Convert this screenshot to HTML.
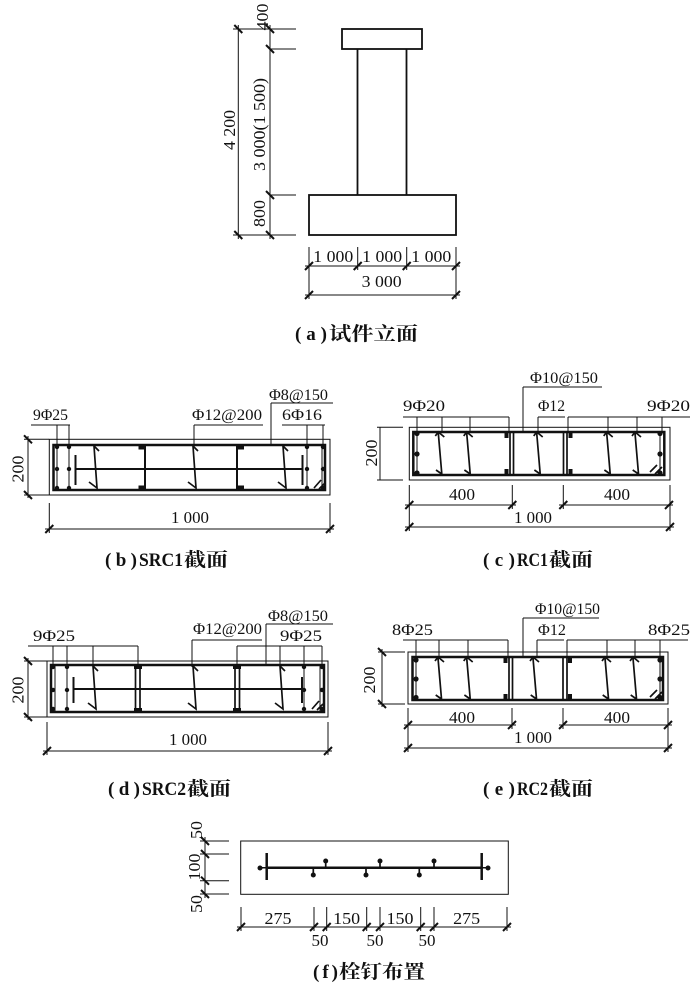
<!DOCTYPE html>
<html><head><meta charset="utf-8"><style>
html,body{margin:0;padding:0;background:#fff;}
svg{display:block;}
text{font-family:"Liberation Serif","Noto Serif CJK SC",serif;fill:#111;}
.d{font-size:17px;}
.l{font-size:16px;}
.c{font-size:19px;font-weight:bold;}
.t{stroke:#111;stroke-width:1;fill:none;}
.k{stroke:#111;stroke-width:2;fill:none;}
.s{stroke:#111;stroke-width:2.5;fill:none;}
.m{stroke:#111;stroke-width:1.7;fill:none;}
.f{fill:#111;}
</style></head><body>
<svg width="700" height="994" viewBox="0 0 700 994" xmlns="http://www.w3.org/2000/svg">
<rect width="700" height="994" fill="#fff"/>

<!-- ===== (a) Elevation ===== -->
<rect x="342" y="29" width="80" height="20" stroke="#111" stroke-width="1.8" fill="none"/>
<path d="M357.5 49V195M406.5 49V195" stroke="#111" stroke-width="1.8"/>
<rect x="309" y="195" width="147" height="40" stroke="#111" stroke-width="1.8" fill="none"/>
<path class="t" d="M238.3 25V239M270 25V239M233 29H296M270 49H296M270 195H296M233 235H296"/>
<path class="k" d="M234.3 25L242.3 33M234.3 231L242.3 239M266 25L274 33M266 45L274 53M266 191L274 199M266 231L274 239"/>
<path class="t" d="M309 247V299M456 247V299M357.7 247V270M406.7 247V270M305 266H460M305 295H460"/>
<path class="k" d="M305 270L313 262M353.7 270L361.7 262M402.7 270L410.7 262M452 270L460 262M305 299L313 291M452 299L460 291"/>
<text class="d" x="333.3" y="262" text-anchor="middle" textLength="40" lengthAdjust="spacingAndGlyphs">1 000</text>
<text class="d" x="382.2" y="262" text-anchor="middle" textLength="40" lengthAdjust="spacingAndGlyphs">1 000</text>
<text class="d" x="431.3" y="262" text-anchor="middle" textLength="40" lengthAdjust="spacingAndGlyphs">1 000</text>
<text class="d" x="381.7" y="287" text-anchor="middle" textLength="40" lengthAdjust="spacingAndGlyphs">3 000</text>
<text class="d" transform="translate(268,17) rotate(-90)" text-anchor="middle" textLength="27" lengthAdjust="spacingAndGlyphs">400</text>
<text class="d" transform="translate(265,124.5) rotate(-90)" text-anchor="middle" textLength="93" lengthAdjust="spacingAndGlyphs">3 000(1 500)</text>
<text class="d" transform="translate(265,213.5) rotate(-90)" text-anchor="middle" textLength="27" lengthAdjust="spacingAndGlyphs">800</text>
<text class="d" transform="translate(235,130) rotate(-90)" text-anchor="middle" textLength="40" lengthAdjust="spacingAndGlyphs">4 200</text>
<text class="c" x="295" y="340" textLength="32" lengthAdjust="spacing">(a)</text>
<text class="c" x="329" y="340" textLength="89" lengthAdjust="spacingAndGlyphs">试件立面</text>

<!-- ===== (b) SRC1 ===== -->
<rect x="49.3" y="439.3" width="280.7" height="55.7" class="t"/>
<rect x="53.5" y="445" width="271.5" height="45" class="s"/>
<path class="t" d="M57 445V490M69 445V490M307 445V490M322 445V490"/>
<g class="f">
<circle cx="57" cy="447" r="2.2"/><circle cx="57" cy="469" r="2.2"/><circle cx="57" cy="488" r="2.2"/>
<circle cx="69" cy="447" r="2.2"/><circle cx="69" cy="469" r="2.2"/><circle cx="69" cy="488" r="2.2"/>
<circle cx="307" cy="447" r="2.2"/><circle cx="307" cy="469" r="2.2"/><circle cx="307" cy="488" r="2.2"/>
<circle cx="323" cy="447" r="2.2"/><circle cx="323" cy="469" r="2.2"/><circle cx="323" cy="488" r="2.2"/>
<rect x="138.5" y="444.5" width="7" height="5"/><rect x="138.5" y="485.5" width="7" height="5"/>
<rect x="237" y="444.5" width="7" height="5"/><rect x="237" y="485.5" width="7" height="5"/>
</g>
<path class="k" d="M75 469H303M75.5 455V485M302.5 455V485M145 446V489M237 446V489"/>
<path class="m" d="M94 446L99 451M94 446L97 488L89 482M193 446L198 451M193 446L196 488L188 482M283 446L288 451M283 446L286 488L278 482"/>
<path class="m" d="M314 488L321 480M319 489L325 483"/>
<path class="t" d="M31 425H70M57 425V447M69 425V447M194 425H263M194 425V446M271 403H333M271 403V445M282 425H325M307 425V447M323 425V447"/>
<text class="l" x="33" y="420" textLength="35" lengthAdjust="spacingAndGlyphs">9Φ25</text>
<text class="l" x="192" y="420" textLength="70" lengthAdjust="spacingAndGlyphs">Φ12@200</text>
<text class="l" x="269" y="400" textLength="59" lengthAdjust="spacingAndGlyphs">Φ8@150</text>
<text class="l" x="282" y="420" textLength="40" lengthAdjust="spacingAndGlyphs">6Φ16</text>
<path class="t" d="M28 436V498M24 439.3H49M24 495H49"/>
<path class="k" d="M24 435.3L32 443.3M24 491L32 499"/>
<text class="d" transform="translate(23.5,469) rotate(-90)" text-anchor="middle" textLength="27" lengthAdjust="spacingAndGlyphs">200</text>
<path class="t" d="M49.3 503V533M330 503V533M45 529H334"/>
<path class="k" d="M45.3 533L53.3 525M326 533L334 525"/>
<text class="d" x="190" y="523" text-anchor="middle" textLength="38" lengthAdjust="spacingAndGlyphs">1 000</text>
<text class="c" x="105" y="566" textLength="32" lengthAdjust="spacing">(b)</text>
<text class="c" x="139" y="566" textLength="44" lengthAdjust="spacingAndGlyphs">SRC1</text>
<text class="c" x="184" y="566" textLength="44" lengthAdjust="spacingAndGlyphs">截面</text>

<!-- ===== (c) RC1 ===== -->
<rect x="409.3" y="427.3" width="260.7" height="52.7" class="t"/>
<rect x="413.3" y="432" width="251" height="43" class="s"/>
<path class="m" d="M510 432V475M513.5 432V475M563.5 432V475M567 432V475"/>
<path class="t" d="M417 432V475M660 432V475"/>
<g class="f">
<circle cx="417" cy="433.5" r="2.6"/><circle cx="417" cy="454" r="2.6"/><circle cx="417" cy="473" r="2.6"/>
<circle cx="660" cy="433.5" r="2.6"/><circle cx="660" cy="454" r="2.6"/><circle cx="660" cy="473" r="2.6"/>
<rect x="504.5" y="433" width="4" height="5"/><rect x="504.5" y="469" width="4" height="5"/>
<rect x="568.5" y="433" width="4" height="5"/><rect x="568.5" y="469" width="4" height="5"/>
</g>
<path class="m" d="M438.3 433L441.8 474M435.3 436L438.3 432L444.3 437M441.8 474L436 470
M466.7 433L470.2 474M463.7 436L466.7 432L472.7 437M470.2 474L464.4 470
M536.7 433L540.2 474M533.7 436L536.7 432L542.7 437M540.2 474L534.4 470
M606.7 433L610.2 474M603.7 436L606.7 432L612.7 437M610.2 474L604.4 470
M635 433L638.5 474M632 436L635 432L641 437M638.5 474L632.7 470"/>
<path class="m" d="M650 472L657 465M655 474L662 467"/>
<path class="t" d="M403 417H509M417 417V432M442 417V432M470 417V432M509 417V432M523 387H602M523 387V432M538 417H565M538 417V432M568 417H690M568 417V432M608 417V432M637 417V432M662 417V432"/>
<text class="l" x="403" y="411" textLength="42" lengthAdjust="spacingAndGlyphs">9Φ20</text>
<text class="l" x="530" y="383" textLength="68" lengthAdjust="spacingAndGlyphs">Φ10@150</text>
<text class="l" x="538" y="411" textLength="27" lengthAdjust="spacingAndGlyphs">Φ12</text>
<text class="l" x="647" y="411" textLength="43" lengthAdjust="spacingAndGlyphs">9Φ20</text>
<path class="t" d="M380 427.3V480M377 427.3H403M377 480H403"/>
<text class="d" transform="translate(377,453) rotate(-90)" text-anchor="middle" textLength="27" lengthAdjust="spacingAndGlyphs">200</text>
<path class="t" d="M409.3 485V531M670 485V531M512.3 485V509M563.3 485V509M405 505H516M559 505H673M405 527H674"/>
<path class="k" d="M405.3 509L413.3 501M508.3 509L516.3 501M559.3 509L567.3 501M665 509L673 501M405.3 531L413.3 523M666 531L674 523"/>
<text class="d" x="462" y="500" text-anchor="middle" textLength="26" lengthAdjust="spacingAndGlyphs">400</text>
<text class="d" x="617" y="500" text-anchor="middle" textLength="26" lengthAdjust="spacingAndGlyphs">400</text>
<text class="d" x="533" y="523" text-anchor="middle" textLength="38" lengthAdjust="spacingAndGlyphs">1 000</text>
<text class="c" x="483" y="566" textLength="32" lengthAdjust="spacing">(c)</text>
<text class="c" x="517" y="566" textLength="31" lengthAdjust="spacingAndGlyphs">RC1</text>
<text class="c" x="549" y="566" textLength="44" lengthAdjust="spacingAndGlyphs">截面</text>

<!-- ===== (d) SRC2 ===== -->
<rect x="47" y="661" width="281" height="56" class="t"/>
<rect x="51" y="665" width="273" height="47" class="s"/>
<path class="t" d="M55 665V712M67 665V712M304 665V712M320 665V712"/>
<g class="f">
<circle cx="53" cy="667" r="2.2"/><circle cx="53" cy="690" r="2.2"/><circle cx="53" cy="709" r="2.2"/>
<circle cx="67" cy="667" r="2.2"/><circle cx="67" cy="690" r="2.2"/><circle cx="67" cy="709" r="2.2"/>
<circle cx="304" cy="667" r="2.2"/><circle cx="304" cy="690" r="2.2"/><circle cx="304" cy="709" r="2.2"/>
<circle cx="322" cy="667" r="2.2"/><circle cx="322" cy="690" r="2.2"/><circle cx="322" cy="709" r="2.2"/>
<rect x="134" y="664" width="8" height="5"/><rect x="134" y="708" width="8" height="5"/>
<rect x="233" y="664" width="8" height="5"/><rect x="233" y="708" width="8" height="5"/>
</g>
<path class="k" d="M73 689H302M73.5 677V703M302 677V703"/>
<path class="m" d="M135.5 665V712M140 665V712M235 665V712M239.5 665V712"/>
<path class="m" d="M93 666L98 671M93 666L96 709L88 703M193 666L198 671M193 666L196 709L188 703M280 666L285 671M280 666L283 709L275 703"/>
<path class="m" d="M312 709L319 701M317 710L323 704"/>
<path class="t" d="M28 646H138M53 646V666M67 646V666M93 646V666M138 646V666M192 640H262M192 640V667M266 624H333M266 624V665M237 646H322M237 646V666M280 646V666M304 646V666M322 646V666"/>
<text class="l" x="33" y="641" textLength="42" lengthAdjust="spacingAndGlyphs">9Φ25</text>
<text class="l" x="193" y="634" textLength="69" lengthAdjust="spacingAndGlyphs">Φ12@200</text>
<text class="l" x="268" y="621" textLength="60" lengthAdjust="spacingAndGlyphs">Φ8@150</text>
<text class="l" x="280" y="641" textLength="42" lengthAdjust="spacingAndGlyphs">9Φ25</text>
<path class="t" d="M28 658V720M24 661H47M24 717H47"/>
<path class="k" d="M24 657L32 665M24 713L32 721"/>
<text class="d" transform="translate(23.5,690) rotate(-90)" text-anchor="middle" textLength="27" lengthAdjust="spacingAndGlyphs">200</text>
<path class="t" d="M47 722V755M328 722V755M43 751H332"/>
<path class="k" d="M43 755L51 747M324 755L332 747"/>
<text class="d" x="188" y="745" text-anchor="middle" textLength="38" lengthAdjust="spacingAndGlyphs">1 000</text>
<text class="c" x="108" y="795" textLength="32" lengthAdjust="spacing">(d)</text>
<text class="c" x="142" y="795" textLength="44" lengthAdjust="spacingAndGlyphs">SRC2</text>
<text class="c" x="187" y="795" textLength="44" lengthAdjust="spacingAndGlyphs">截面</text>

<!-- ===== (e) RC2 ===== -->
<rect x="408" y="652" width="260" height="52" class="t"/>
<rect x="412.5" y="657" width="250.5" height="43" class="s"/>
<path class="m" d="M509 657V700M512.5 657V700M563 657V700M567 657V700"/>
<path class="t" d="M416 657V700M660 657V700"/>
<g class="f">
<circle cx="416" cy="660" r="2.6"/><circle cx="416" cy="679" r="2.6"/><circle cx="416" cy="697.5" r="2.6"/>
<circle cx="660" cy="660" r="2.6"/><circle cx="660" cy="679" r="2.6"/><circle cx="660" cy="697.5" r="2.6"/>
<rect x="503.5" y="658" width="4" height="5"/><rect x="503.5" y="694" width="4" height="5"/>
<rect x="568" y="658" width="4" height="5"/><rect x="568" y="694" width="4" height="5"/>
</g>
<path class="m" d="M438 658L441.5 699M435 661L438 657L444 662M441.5 699L435.7 695
M466.7 658L470.2 699M463.7 661L466.7 657L472.7 662M470.2 699L464.4 695
M533 658L536.5 699M530 661L533 657L539 662M536.5 699L530.7 695
M605 658L608.5 699M602 661L605 657L611 662M608.5 699L602.7 695
M633 658L636.5 699M630 661L633 657L639 662M636.5 699L630.7 695"/>
<path class="m" d="M650 697L657 690M655 699L662 692"/>
<path class="t" d="M403 640H508M416 640V657M439 640V657M468 640V657M508 640V657M523 618H599M523 618V657M537 640H564M537 640V657M567 640H688M567 640V657M607 640V657M635 640V657M660 640V657"/>
<text class="l" x="392" y="635" textLength="41" lengthAdjust="spacingAndGlyphs">8Φ25</text>
<text class="l" x="535" y="614" textLength="65" lengthAdjust="spacingAndGlyphs">Φ10@150</text>
<text class="l" x="538" y="635" textLength="28" lengthAdjust="spacingAndGlyphs">Φ12</text>
<text class="l" x="648" y="635" textLength="42" lengthAdjust="spacingAndGlyphs">8Φ25</text>
<path class="t" d="M382 649V707M378 652H405M378 704H405"/>
<path class="k" d="M378 648L386 656M378 700L386 708"/>
<text class="d" transform="translate(375,680) rotate(-90)" text-anchor="middle" textLength="27" lengthAdjust="spacingAndGlyphs">200</text>
<path class="t" d="M408 708V752M668 708V752M512 708V729M563 708V729M404 725H516M559 725H672M404 748H672"/>
<path class="k" d="M404 729L412 721M508 729L516 721M559 729L567 721M664 729L672 721M404 752L412 744M664 752L672 744"/>
<text class="d" x="462" y="723" text-anchor="middle" textLength="26" lengthAdjust="spacingAndGlyphs">400</text>
<text class="d" x="617" y="723" text-anchor="middle" textLength="26" lengthAdjust="spacingAndGlyphs">400</text>
<text class="d" x="533" y="743" text-anchor="middle" textLength="38" lengthAdjust="spacingAndGlyphs">1 000</text>
<text class="c" x="483" y="795" textLength="32" lengthAdjust="spacing">(e)</text>
<text class="c" x="517" y="795" textLength="31" lengthAdjust="spacingAndGlyphs">RC2</text>
<text class="c" x="549" y="795" textLength="44" lengthAdjust="spacingAndGlyphs">截面</text>

<!-- ===== (f) Studs ===== -->
<rect x="240.7" y="841" width="267.6" height="53.3" class="t"/>
<path d="M260 867.7H488" stroke="#111" stroke-width="1.5"/>
<path class="s" d="M266.7 867.7H481.7M266.7 853V880M481.7 853V880"/>
<path class="m" d="M325.7 868V861M380 868V861M434 868V861M313.3 868V875M366 868V875M419.3 868V875"/>
<g class="f">
<circle cx="260" cy="868" r="2.5"/><circle cx="488" cy="868" r="2.5"/>
<circle cx="325.7" cy="861" r="2.5"/><circle cx="380" cy="861" r="2.5"/><circle cx="434" cy="861" r="2.5"/>
<circle cx="313.3" cy="875" r="2.5"/><circle cx="366" cy="875" r="2.5"/><circle cx="419.3" cy="875" r="2.5"/>
</g>
<path class="t" d="M205 837V898M200 841H229M200 854H229M200 880.7H229M200 894H229"/>
<path class="k" d="M201 837L209 845M201 850L209 858M201 876.7L209 884.7M201 890L209 898"/>
<text class="d" transform="translate(202,830) rotate(-90)" text-anchor="middle" textLength="18" lengthAdjust="spacingAndGlyphs">50</text>
<text class="d" transform="translate(200,867) rotate(-90)" text-anchor="middle" textLength="27" lengthAdjust="spacingAndGlyphs">100</text>
<text class="d" transform="translate(202,904) rotate(-90)" text-anchor="middle" textLength="18" lengthAdjust="spacingAndGlyphs">50</text>
<path class="t" d="M237 927H511M241 907V931M314 907V931M326.7 907V931M366.7 907V931M380 907V931M420.7 907V931M434 907V931M507 907V931"/>
<path class="k" d="M237 931L245 923M310 931L318 923M322.7 931L330.7 923M362.7 931L370.7 923M376 931L384 923M416.7 931L424.7 923M430 931L438 923M503 931L511 923"/>
<text class="d" x="278" y="924" text-anchor="middle" textLength="27" lengthAdjust="spacingAndGlyphs">275</text>
<text class="d" x="346.7" y="924" text-anchor="middle" textLength="27" lengthAdjust="spacingAndGlyphs">150</text>
<text class="d" x="400" y="924" text-anchor="middle" textLength="27" lengthAdjust="spacingAndGlyphs">150</text>
<text class="d" x="466.7" y="924" text-anchor="middle" textLength="27" lengthAdjust="spacingAndGlyphs">275</text>
<text class="d" x="320" y="946" text-anchor="middle" textLength="17" lengthAdjust="spacingAndGlyphs">50</text>
<text class="d" x="375" y="946" text-anchor="middle" textLength="17" lengthAdjust="spacingAndGlyphs">50</text>
<text class="d" x="427" y="946" text-anchor="middle" textLength="17" lengthAdjust="spacingAndGlyphs">50</text>
<text class="c" x="313" y="978" textLength="25" lengthAdjust="spacing">(f)</text>
<text class="c" x="339" y="978" textLength="86" lengthAdjust="spacingAndGlyphs">栓钉布置</text>
</svg>
</body></html>
